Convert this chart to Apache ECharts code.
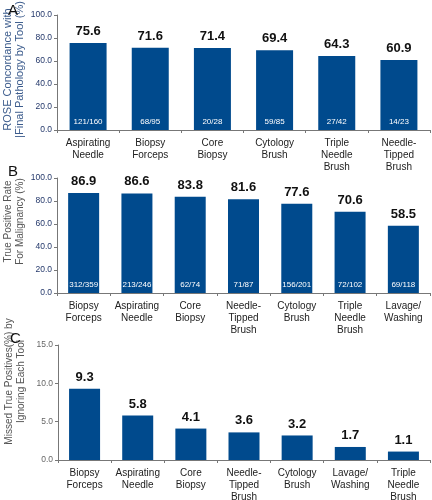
<!DOCTYPE html>
<html><head><meta charset="utf-8">
<script src="https://cdn.jsdelivr.net/npm/echarts@6/dist/echarts.min.js"></script>
<style>html,body{margin:0;padding:0;background:#fff}#c{width:432px;height:500px}</style>
</head><body><div id="c"></div>
<script>
var catsA = ['Aspirating\nNeedle','Biopsy\nForceps','Core\nBiopsy','Cytology\nBrush','Triple\nNeedle\nBrush','Needle-\nTipped\nBrush'];
var valsA = [75.6, 71.6, 71.4, 69.4, 64.3, 60.9];
var fracA = ['121/160','68/95','20/28','59/85','27/42','14/23'];
var catsB = ['Biopsy\nForceps','Aspirating\nNeedle','Core\nBiopsy','Needle-\nTipped\nBrush','Cytology\nBrush','Triple\nNeedle\nBrush','Lavage/\nWashing'];
var valsB = [86.9, 86.6, 83.8, 81.6, 77.6, 70.6, 58.5];
var fracB = ['312/359','213/246','62/74','71/87','156/201','72/102','69/118'];
var catsC = ['Biopsy\nForceps','Aspirating\nNeedle','Core\nBiopsy','Needle-\nTipped\nBrush','Cytology\nBrush','Lavage/\nWashing','Triple\nNeedle\nBrush'];
var valsC = [9.3, 5.8, 4.1, 3.6, 3.2, 1.7, 1.1];

var BAR = '#004a8d';
var FONT = 'Liberation Sans, Arial, sans-serif';
var chart = echarts.init(document.getElementById('c'));

function yAxis(idx, max, interval, name, nameColor, tickColor, nameSize, shiftUp) {
  return {
    gridIndex: idx, type: 'value', min: 0, max: max, interval: interval,
    name: name, nameLocation: 'middle', nameGap: 31, nameRotate: 90, nameMoveOverlap: false,
    nameTextStyle: {color: nameColor, fontSize: nameSize, fontFamily: FONT, lineHeight: 12, padding: [0, 0, 0, shiftUp * 2]},
    axisLine: {show: true, lineStyle: {color: '#777'}},
    axisTick: {show: true, length: 3, lineStyle: {color: '#777'}},
    axisLabel: {color: tickColor, fontSize: 8.5, fontFamily: FONT, margin: 5, formatter: function(v){return v.toFixed(1);}},
    splitLine: {show: false}
  };
}
function xAxis(idx, cats) {
  return {
    gridIndex: idx, type: 'category', data: cats,
    axisLine: {show: true, lineStyle: {color: '#777'}},
    axisTick: {show: true, length: 3, lineStyle: {color: '#777'}},
    axisLabel: {color: '#222', fontSize: 10, fontFamily: FONT, lineHeight: 12, margin: 7, interval: 0}
  };
}
function mainSeries(idx, vals, bw) {
  return {
    type: 'bar', xAxisIndex: idx, yAxisIndex: idx, data: vals, barWidth: bw,
    itemStyle: {color: BAR},
    label: {show: true, position: 'top', distance: 5, color: '#111', fontWeight: 'bold', fontSize: 13, fontFamily: FONT,
      formatter: function(p){return p.value.toFixed(1);}},
    z: 2
  };
}
function fracSeries(idx, vals, fracs, bw) {
  return {
    type: 'bar', xAxisIndex: idx, yAxisIndex: idx, data: vals, barWidth: bw, barGap: '-100%',
    itemStyle: {color: 'rgba(0,0,0,0)'}, silent: true,
    label: {show: true, position: 'insideBottom', distance: 4, color: '#fff', fontSize: 8, fontFamily: FONT,
      formatter: function(p){return fracs[p.dataIndex];}},
    z: 3
  };
}

chart.setOption({
  animation: false,
  textStyle: {fontFamily: FONT},
  title: [
    {text: 'A', left: 3, top: -2, textStyle: {fontSize: 15, fontWeight: 'normal', color: '#111', fontFamily: FONT}},
    {text: 'B', left: 3, top: 159, textStyle: {fontSize: 15, fontWeight: 'normal', color: '#111', fontFamily: FONT}},
    {text: 'C', left: 5, top: 326, textStyle: {fontSize: 15, fontWeight: 'normal', color: '#111', fontFamily: FONT}}
  ],
  grid: [
    {left: 57, right: 2, top: 15, height: 115, outerBoundsMode: 'none', containLabel: false},
    {left: 57, right: 2, top: 178, height: 115, outerBoundsMode: 'none', containLabel: false},
    {left: 58, right: 2, top: 345, height: 115, outerBoundsMode: 'none', containLabel: false}
  ],
  xAxis: [xAxis(0, catsA), xAxis(1, catsB), xAxis(2, catsC)],
  yAxis: [
    yAxis(0, 100, 20, 'ROSE Concordance with\n|Final Pathology by Tool (%)', '#3b5b8c', '#24386b', 11, 3),
    yAxis(1, 100, 20, 'True Positive Rate\nFor Malignancy (%)', '#555', '#24386b', 10, 14),
    yAxis(2, 15, 5, 'Missed True Positives(%) by\nIgnoring Each Tool', '#555', '#666', 10, 21)
  ],
  series: [
    mainSeries(0, valsA, 37), fracSeries(0, valsA, fracA, 37),
    mainSeries(1, valsB, 31), fracSeries(1, valsB, fracB, 31),
    mainSeries(2, valsC, 31)
  ]
});
</script></body></html>
